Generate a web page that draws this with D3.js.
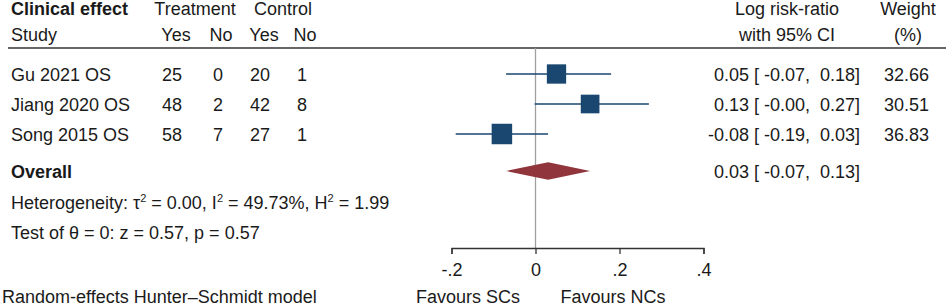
<!DOCTYPE html>
<html>
<head>
<meta charset="utf-8">
<script src="https://cdn.jsdelivr.net/npm/d3@7"></script>
<style>
  body { margin: 0; background: #fff; }
  svg text { font-family: "Liberation Sans", Arial, sans-serif; font-size: 18px; fill: #1a1a1a; white-space: pre; }
</style>
</head>
<body>
<script>
// study rows
var studies  = ["Gu 2021 OS", "Jiang 2020 OS", "Song 2015 OS"];
var treatYes = [25, 48, 58];
var treatNo  = [0, 2, 7];
var ctrlYes  = [20, 42, 27];
var ctrlNo   = [1, 8, 1];
var est      = [0.05, 0.13, -0.08];
var lo       = [-0.07, -0.002, -0.19];
var hi       = [0.18, 0.27, 0.03];
var weight   = [32.66, 30.51, 36.83];

// overall (random effects)
var overall = {est: 0.03, lo: -0.07, hi: 0.13};

var axisTicks = [-0.2, 0, 0.2, 0.4];
var tickLabels = ["-.2", "0", ".2", ".4"];

var width = 948, height = 307;

var svg = d3.select("body").append("svg")
  .attr("width", width)
  .attr("height", height);

var x = d3.scaleLinear().domain([-0.2, 0.4]).range([451.5, 703.5]);
var rowY = d3.scalePoint().domain(studies).range([74, 134]);
var size = d3.scaleSqrt().domain([0, d3.max(weight)]).range([0, 20.5]);

var navy = "#1a476f", maroon = "#90353b";

// number format like stata %6.2f
var f2 = function(v){ return (v < 0 ? "-" : "") + Math.abs(v).toFixed(2); };
var pad = function(s, n){ while (s.length < n) s = " " + s; return s; };
var ciText = function(e, l, h){ return f2(e) + " [" + pad(f2(l), 6) + "," + pad(f2(h), 6) + "]"; };

// headers
svg.append("text").attr("x", 11).attr("y", 15).style("font-weight", "bold").text("Clinical effect");
svg.append("text").attr("x", 195).attr("y", 15).attr("text-anchor", "middle").text("Treatment");
svg.append("text").attr("x", 283).attr("y", 15).attr("text-anchor", "middle").text("Control");
svg.append("text").attr("x", 11).attr("y", 41).text("Study");
var cols = [176, 221, 264, 305];
["Yes", "No", "Yes", "No"].forEach(function(t, i){
  svg.append("text").attr("x", cols[i]).attr("y", 41).attr("text-anchor", "middle").text(t);
});
svg.append("text").attr("x", 787).attr("y", 15).attr("text-anchor", "middle").text("Log risk-ratio");
svg.append("text").attr("x", 787).attr("y", 41).attr("text-anchor", "middle").text("with 95% CI");
svg.append("text").attr("x", 908).attr("y", 15).attr("text-anchor", "middle").text("Weight");
svg.append("text").attr("x", 908).attr("y", 41).attr("text-anchor", "middle").text("(%)");

svg.append("line").attr("x1", 8).attr("x2", 946).attr("y1", 48).attr("y2", 48)
  .attr("stroke", "#333").attr("stroke-width", 1.6);

// reference line at 0
svg.append("line").attr("x1", x(0)).attr("x2", x(0)).attr("y1", 48).attr("y2", 248)
  .attr("stroke", "#a0a0a0").attr("stroke-width", 1.3);

// study rows
var rows = svg.selectAll("g.row").data(studies).enter().append("g").attr("class", "row");
rows.append("text").attr("x", 11).attr("y", function(d){ return rowY(d) + 7; }).text(function(d){ return d; });
[treatYes, treatNo, ctrlYes, ctrlNo].forEach(function(arr, j){
  rows.append("text").attr("x", cols[j] - 4 + (j == 1 || j == 3 ? 1 : 0))
    .attr("y", function(d){ return rowY(d) + 7; })
    .attr("text-anchor", "middle")
    .text(function(d, i){ return arr[i]; });
});
rows.append("line")
  .attr("x1", function(d, i){ return x(lo[i]); })
  .attr("x2", function(d, i){ return x(hi[i]); })
  .attr("y1", function(d){ return rowY(d); })
  .attr("y2", function(d){ return rowY(d); })
  .attr("stroke", navy).attr("stroke-width", 1.6);
rows.append("rect")
  .attr("x", function(d, i){ return x(est[i]) - size(weight[i]) / 2; })
  .attr("y", function(d, i){ return rowY(d) - size(weight[i]) / 2; })
  .attr("width", function(d, i){ return size(weight[i]); })
  .attr("height", function(d, i){ return size(weight[i]); })
  .attr("fill", navy);
rows.append("text").attr("x", 860).attr("y", function(d){ return rowY(d) + 7; })
  .attr("text-anchor", "end")
  .text(function(d, i){ return ciText(est[i], lo[i], hi[i]); });
rows.append("text").attr("x", 929).attr("y", function(d){ return rowY(d) + 7; })
  .attr("text-anchor", "end")
  .text(function(d, i){ return weight[i].toFixed(2); });

// overall
var oy = 171;
svg.append("text").attr("x", 11).attr("y", oy + 7).style("font-weight", "bold").text("Overall");
svg.append("path")
  .attr("d", "M" + x(overall.lo) + "," + oy + "L" + x(overall.est) + "," + (oy - 8.7) +
             "L" + x(overall.hi) + "," + oy + "L" + x(overall.est) + "," + (oy + 8.7) + "Z")
  .attr("fill", maroon);
svg.append("text").attr("x", 860).attr("y", oy + 7).attr("text-anchor", "end")
  .text(ciText(overall.est, overall.lo, overall.hi));

// heterogeneity + test
var het = svg.append("text").attr("x", 11).attr("y", 209);
het.append("tspan").text("Heterogeneity: \u03c4");
het.append("tspan").attr("dy", -7).style("font-size", "11px").text("2");
het.append("tspan").attr("dy", 7).text(" = 0.00, I");
het.append("tspan").attr("dy", -7).style("font-size", "11px").text("2");
het.append("tspan").attr("dy", 7).text(" = 49.73%, H");
het.append("tspan").attr("dy", -7).style("font-size", "11px").text("2");
het.append("tspan").attr("dy", 7).text(" = 1.99");
svg.append("text").attr("x", 11).attr("y", 239).text("Test of \u03b8 = 0: z = 0.57, p = 0.57");

// axis
var axis = svg.append("g").attr("transform", "translate(0,248)")
  .call(d3.axisBottom(x).tickValues(axisTicks).tickSize(6).tickPadding(9)
    .tickFormat(function(d, i){ return tickLabels[i]; }));
axis.select(".domain").attr("stroke", "#333").attr("stroke-width", 1.3);
axis.selectAll(".tick line").attr("stroke", "#333").attr("stroke-width", 1.3);
axis.selectAll(".tick text").attr("fill", "#1a1a1a")
  .style("font-family", "Liberation Sans, Arial, sans-serif").style("font-size", "18px");

svg.append("text").attr("x", 468).attr("y", 303).attr("text-anchor", "middle").text("Favours SCs");
svg.append("text").attr("x", 613).attr("y", 303).attr("text-anchor", "middle").text("Favours NCs");
svg.append("text").attr("x", 2).attr("y", 303).text("Random-effects Hunter\u2013Schmidt model");
</script>
</body>
</html>
